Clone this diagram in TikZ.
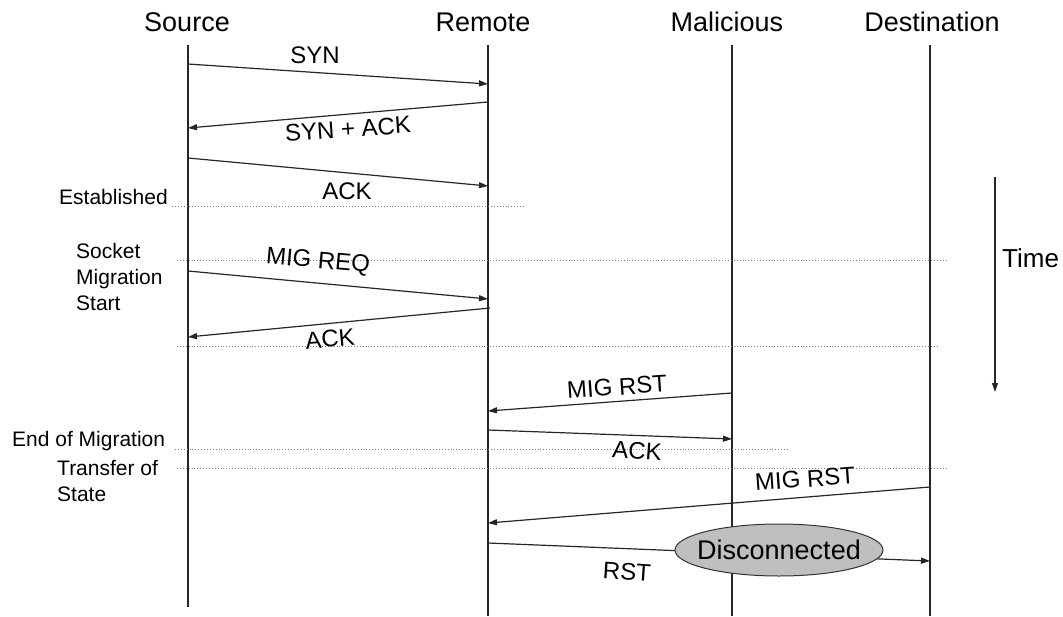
\documentclass[tikz,border=0pt]{standalone}
\usepackage{fontspec}
\setmainfont{Liberation Sans}
\usetikzlibrary{arrows.meta,shapes.geometric}
\begin{document}
\begin{tikzpicture}[x=1pt,y=-1pt,
  title/.style={font=\fontsize{27}{30}\selectfont,inner sep=0pt},
  msg/.style={font=\fontsize{24}{27}\selectfont,inner sep=0pt},
  side/.style={font=\fontsize{21}{26}\selectfont,inner sep=0pt,anchor=west,align=left},
  life/.style={line width=1.4pt,black!85},
  arr/.style={line width=1.2pt,black!85,-{Triangle[length=9pt,width=6pt]}},
  phase/.style={gray,dotted,line width=0.9pt},
  state/.style={ellipse,draw=black!80,line width=1pt,fill=black!25,minimum width=208pt,minimum height=52pt,inner xsep=-9pt,inner ysep=0pt,font=\fontsize{27}{30}\selectfont}]
\useasboundingbox (0,0) rectangle (1063,616);
% titles
\node[title] (tS) at (187,22) {Source};
\node[title] (tR) at (483,22) {Remote};
\node[title] (tM) at (727,22) {Malicious};
\node[title] (tD) at (932,22) {Destination};
% lifelines
\coordinate (S0) at (188,45); \coordinate (S9) at (188,607);
\coordinate (R0) at (488,45); \coordinate (R9) at (488,616);
\coordinate (M0) at (732,45); \coordinate (M9) at (732,616);
\coordinate (D0) at (930,45); \coordinate (D9) at (930,616);
\draw[life] (S0) -- (S9);
\draw[life] (R0) -- (R9);
\draw[life] (M0) -- (M9);
\draw[life] (D0) -- (D9);
% phase lines
\draw[phase] (172,206) -- (525,206);
\draw[phase] (177,260) -- (948,260);
\draw[phase] (177,346) -- (938,346);
\draw[phase] (175,449) -- (787,449);
\draw[phase] (177,468) -- (948,468);
% side labels
\node[side] (lE) at (59,197) {Established};
\node[side] (lS) at (76,277) {Socket\\Migration\\Start};
\node[side] (lM) at (12,441) {End of Migration};
\node[side] (lT) at (57,481) {Transfer of\\State};
% message end points
\coordinate (a1) at (188,64);  \coordinate (b1) at (488,84);
\coordinate (a2) at (488,102); \coordinate (b2) at (188,128);
\coordinate (a3) at (188,158); \coordinate (b3) at (488,186);
\coordinate (a4) at (188,271); \coordinate (b4) at (488,299);
\coordinate (a5) at (490,308); \coordinate (b5) at (188,337);
\coordinate (a6) at (732,393); \coordinate (b6) at (488,411);
\coordinate (a7) at (488,430); \coordinate (b7) at (732,439);
\coordinate (a8) at (930,487); \coordinate (b8) at (488,523);
\coordinate (a9) at (488,543); \coordinate (b9) at (930,561);
\draw[arr] (a1) -- (b1);
\draw[arr] (a2) -- (b2);
\draw[arr] (a3) -- (b3);
\draw[arr] (a4) -- (b4);
\draw[arr] (a5) -- (b5);
\draw[arr] (a6) -- (b6);
\draw[arr] (a7) -- (b7);
\draw[arr] (a8) -- (b8);
\draw[arr] (a9) -- (b9);
% message labels
\node[msg] (m1) at (315,55) {SYN};
\node[msg,rotate=4] (m2) at (348,129) {SYN + ACK};
\node[msg] (m3) at (347,191) {ACK};
\node[msg,rotate=-5] (m4) at (318,262) {MIG REQ};
\node[msg,rotate=5] (m5) at (330,339) {ACK};
\node[msg,rotate=4] (m6) at (617,387) {MIG RST};
\node[msg,rotate=-4] (m7) at (637,451) {ACK};
\node[msg,rotate=4] (m8) at (805,479) {MIG RST};
\node[msg,rotate=-4] (m9) at (627,572) {RST};
% state
\node[state] (dis) at (779,550) {Disconnected};
% time arrow
\coordinate (T0) at (995,177); \coordinate (T1) at (995,392);
\draw[arr] (T0) -- (T1);
\node[font=\fontsize{26}{30}\selectfont,inner sep=0pt,anchor=west] (time) at (1002,258) {Time};
\end{tikzpicture}
\end{document}
